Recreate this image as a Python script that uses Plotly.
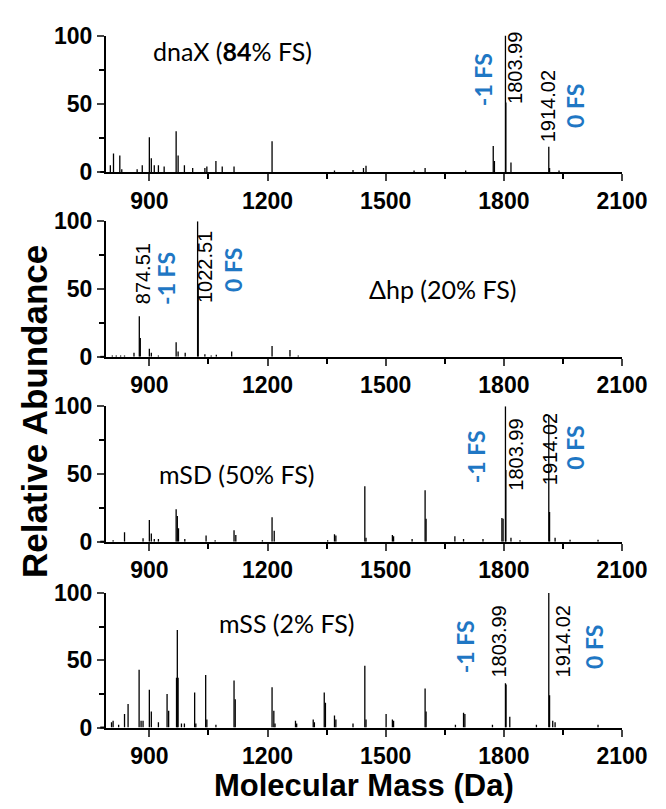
import plotly.graph_objects as go

# ---------------- data ----------------
x_ticks = [900, 1200, 1500, 1800, 2100]
x_minor = [1050, 1350, 1650, 1950]
y_ticks = [0, 50, 100]
y_minor = [25, 75]

dnaX_mass = [801, 809, 825, 830, 869, 882, 900, 905, 912.5, 923, 937.6, 968, 973, 989, 1010,
             1041, 1046, 1069, 1085, 1115, 1211.5, 1370, 1417, 1443.6, 1450, 1572, 1600, 1703,
             1773, 1776, 1803.99, 1805, 1818, 1914.02, 1916, 1940]
dnaX_int = [5, 13.5, 12, 2, 2, 5, 25.5, 10, 5, 5, 4, 29.8, 12, 5, 3,
            3, 4, 8, 4, 4, 22.5, 1, 1.5, 3, 4.5, 1, 3, 1,
            19, 8, 100, 51, 7, 18.5, 3, 1]

dhp_mass = [806, 816, 827, 837, 861, 874.51, 877, 900, 905, 923, 968, 973, 991, 1022.51, 1024,
            1041, 1057, 1070, 1109, 1211.5, 1257, 1278]
dhp_int = [1, 1, 1, 1, 3, 30, 14, 6, 3, 1, 10.7, 4, 3, 100, 54,
           2, 1, 1.5, 4, 8, 5, 1]

mSD_mass = [808, 837, 884, 900, 905, 912.5, 923, 968, 971, 974, 990, 1044, 1067, 1115, 1119.5,
            1187, 1211.5, 1217, 1352.6, 1370, 1373.5, 1447, 1450, 1517, 1520, 1567, 1600, 1602.5,
            1675.6, 1697.6, 1747, 1795, 1798, 1803.99, 1805, 1818, 1841, 1914.02, 1916, 1930,
            1968, 2039]
mSD_int = [1, 7, 2.5, 16, 6, 2, 2, 24, 19, 10, 2, 4.5, 1, 8.5, 5,
           1, 18, 8, 1, 5.5, 4.5, 41, 3, 5, 4, 2, 38, 17,
           4, 2, 2, 17.5, 17, 100, 53, 3, 1, 93.5, 22, 3,
           1.5, 1.5]

mSS_mass = [804, 808, 822, 837, 846, 874, 879, 884, 900, 905, 923, 945, 949, 969, 971, 973,
            981.5, 989, 1015, 1018, 1043, 1046, 1069, 1115, 1118, 1211.5, 1216, 1219, 1271,
            1274, 1316, 1319, 1344, 1347, 1370, 1373.5, 1417, 1447, 1450, 1501, 1517, 1520,
            1600, 1602.5, 1677, 1697.6, 1701, 1771, 1803.99, 1805.5, 1815, 1882.6, 1914.02,
            1916, 1924, 1930, 2039]
mSS_int = [4, 5, 2, 10, 17.5, 43, 5, 5, 28, 12, 4, 25, 12.5, 37, 72.5, 37,
           3, 3, 26, 3, 39, 6, 2, 35, 21, 30, 12.5, 3, 5,
           3, 6, 4, 26, 18.5, 9, 6, 3, 46, 6, 10, 6, 5,
           29, 12, 2, 11, 10, 2, 33, 32, 8, 2, 100,
           24, 5, 4, 2]

panel_titles = ["dnaX (<b>84</b>% FS)", "Δhp (20% FS)", "mSD (50% FS)", "mSS (2% FS)"]
title_pos = [(1110, 89), (1644, 50), (1120, 50), (1248, 78)]

# rotated labels: (text, mass position, intensity position, kind)
peak_labels = [
    [("-1 FS", 1747, 68, "fs"), ("1803.99", 1830, 76, "num"), ("1914.02", 1914, 48, "num"), ("0 FS", 1982, 48, "fs")],
    [("874.51", 884, 61, "num"), ("-1 FS", 944, 58, "fs"), ("1022.51", 1043, 66, "num"), ("0 FS", 1112, 64, "fs")],
    [("-1 FS", 1729, 63, "fs"), ("1803.99", 1830, 64, "num"), ("1914.02", 1916, 68, "num"), ("0 FS", 1982, 69, "fs")],
    [("-1 FS", 1700, 60, "fs"), ("1803.99", 1788, 64, "num"), ("1914.02", 1950, 64, "num"), ("0 FS", 2029, 60, "fs")],
]

spectra = [(dnaX_mass, dnaX_int), (dhp_mass, dhp_int), (mSD_mass, mSD_int), (mSS_mass, mSS_int)]

# ---------------- layout geometry (pixels) ----------------
W, H = 666, 809
x_left, x_right = 102, 639
panel_px = [(15, 156), (207, 347), (398, 538), (591, 730)]

BLUE = "#1f77c4"
TICKFONT = dict(family="Liberation Sans, Arial", size=23, color="black", weight="bold")

fig = go.Figure()
annotations = []
shapes = []

for i, ((m, h), (top, bot)) in enumerate(zip(spectra, panel_px)):
    xs, ys = [], []
    for mm, hh in zip(m, h):
        xs += [mm, mm, None]
        ys += [0, hh, None]
    sfx = "" if i == 0 else str(i + 1)
    fig.add_trace(go.Scatter(x=xs, y=ys, mode="lines", line=dict(color="black", width=1.3),
                             xaxis="x" + sfx, yaxis="y" + sfx, showlegend=False, hoverinfo="skip"))
    dom_y = [1 - bot / H, 1 - top / H]
    fig.layout["xaxis" + sfx] = dict(
        domain=[x_left / W, x_right / W], anchor="y" + sfx, range=[790, 2100],
        tickmode="array", tickvals=x_ticks, ticks="outside", ticklen=7, tickwidth=2,
        showline=True, linewidth=2, linecolor="black", showgrid=False, zeroline=False,
        tickfont=TICKFONT, ticklabeloverflow="allow",
        minor=dict(tickvals=x_minor, ticks="outside", ticklen=5, tickwidth=2, tickcolor="black"),
    )
    fig.layout["yaxis" + sfx] = dict(
        domain=dom_y, anchor="x" + sfx, range=[0, 100],
        tickmode="array", tickvals=y_ticks, ticks="outside", ticklen=7, tickwidth=2,
        showline=True, linewidth=2, linecolor="black", showgrid=False, zeroline=False,
        tickfont=TICKFONT, ticklabeloverflow="allow",
        minor=dict(tickvals=y_minor, ticks="outside", ticklen=5, tickwidth=2, tickcolor="black"),
    )
    # short stub of the x axis line to the left of the y axis
    shapes.append(dict(type="line", xref="paper", yref="paper",
                       x0=(x_left - 6) / W, x1=x_left / W, y0=1 - bot / H, y1=1 - bot / H,
                       line=dict(color="black", width=2)))
    tx, ty = title_pos[i]
    annotations.append(dict(text=panel_titles[i], x=tx, y=ty, xref="x" + sfx, yref="y" + sfx,
                            showarrow=False, font=dict(family="Lato, Open Sans", size=25, color="black")))
    for text, px, py, kind in peak_labels[i]:
        if kind == "fs":
            f = dict(family="Lato, Open Sans", size=23, color=BLUE, weight="bold")
        else:
            f = dict(family="Liberation Sans, Arial", size=20, color="black")
        annotations.append(dict(text=text, x=px, y=py, xref="x" + sfx, yref="y" + sfx,
                                showarrow=False, textangle=-90, font=f))

annotations.append(dict(text="Relative Abundance", x=27 / W, y=1 - 403 / H, xref="paper", yref="paper",
                        xanchor="center", yanchor="middle", showarrow=False, textangle=-90,
                        font=dict(family="Liberation Sans, Arial", size=35, color="black", weight="bold")))
annotations.append(dict(text="Molecular Mass (Da)", x=((x_left + x_right) / 2) / W, y=1 - 790 / H,
                        xref="paper", yref="paper", xanchor="center", yanchor="middle", showarrow=False,
                        font=dict(family="Liberation Sans, Arial", size=31, color="black", weight="bold")))

fig.update_layout(width=W, height=H, margin=dict(l=0, r=0, t=0, b=0),
                  plot_bgcolor="white", paper_bgcolor="white",
                  annotations=annotations, shapes=shapes)

fig.write_html("out.html")
